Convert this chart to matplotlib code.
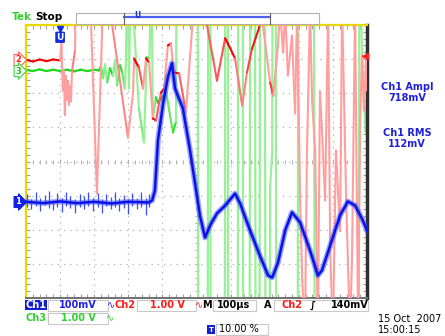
import numpy as np
import matplotlib.pyplot as plt
from matplotlib.collections import LineCollection
from matplotlib.patches import Rectangle
from matplotlib.transforms import blended_transform_factory

W, H = 445, 336

# time in µs from the trigger (100 µs/div, trigger at 10 %)
# Ch1: mV (100 mV/div), Ch2 / Ch3: V (1 V/div)
ch1_t = [-100, -50, 0, 50, 100, 150, 200, 260,
         270, 278, 287, 302, 316, 328, 337, 360, 381, 410, 425, 440, 460, 484, 513, 528, 557,
         586, 610, 622, 639, 660, 680, 704, 733, 756, 768, 792, 821, 844, 865, 885, 900]
ch1_mv = [2, -2, 3, -2, 2, -3, 2, 0,
          6, 35, 182, 290, 367, 408, 334, 276, 153, -38, -103, -67, -32, -9, 26, -3, -82,
          -156, -214, -220, -176, -82, -29, -59, -141, -214, -199, -126, -38, 3, -9, -47, -82]

# noise spikes on the Ch1 baseline: time, low, high (mV)
spike_t = [-96, -84, -70, -58, -45, -33, -20, -8, 5, 18, 30, 44, 57, 70, 83, 96, 110, 122,
           135, 148, 160, 173, 186, 199, 212, 225, 238, 251, 262]
spike_lo = [-12, -18, -10, -25, -8, -15, -22, -12, -28, -10, -16, -30, -12, -20, -10, -24,
            -14, -32, -10, -20, -12, -26, -16, -34, -10, -20, -14, -36, -12]
spike_hi = [25, 10, 30, 12, 22, 34, 8, 28, 14, 30, 20, 10, 26, 18, 32, 12, 28, 10, 24, 16,
            30, 12, 22, 10, 28, 14, 30, 12, 24]

ch2_t = [-100, -80, -60, -40, -20, 0, 4, 8, 11, 14, 17, 20, 23, 26, 29, 32,
         35, 41, 44, 50, 60, 108, 130, 149, 199, 214, 217, 223, 231, 243, 252, 261, 272, 281,
         296, 305, 316, 325, 334, 349, 369, 395, 415, 431, 460, 484, 492, 513, 534, 548, 563,
         586, 592, 595, 616, 625, 639, 645, 654, 660, 668, 680, 689, 695, 704, 710, 718, 724,
         733, 739, 748, 756, 762, 768, 777, 786, 792, 800, 809, 821, 827, 839, 850, 856, 865,
         874, 880, 885, 891, 897, 900]
ch2_v = [0.02, -0.03, 0.03, -0.02, 0.03, 0.0, 0.5, -0.88, -0.3, -1.6, -0.45, -1.15, -0.6, -1.3,
         -0.75, -1.2, -0.3, 0.1, 0.3, 10, 10, -3.9, 3, 1.3, -2.26, -0.94, 0.06, -0.06, -0.2,
         -0.82, 0.06, -0.06, -1.7, -1.76, -0.94, -0.82, 0.44, 0.5, -0.35, -0.38, -1.52, 2.0,
         2.5, 1.03, -0.59, 0.65, 0.5, 0.06, -1.32, -0.35, 0.35, 1.03, 2.0, 1.03, -0.65, -1.03,
         0.44, 1.5, 0.23, 1.5, -0.44, 0.73, -1.55, 1.5, -4.1, -6.45, -8, -2.64, 1.5, -1.17,
         -2.64, -8, -0.9, -2.05, -4.1, 1.5, -5.57, -8, -2.64, -5.0, 1.5, -4.1, -8, -5.86, 1.5,
         -8, -1.76, 0.15, -1.47, 0.0, -0.88]

ch3_t = [-100, -80, -60, -40, -20, 0, 20, 40, 60, 80, 100, 114, 120, 126, 132, 138, 146, 155,
         161, 167, 176, 182, 190, 193, 197, 202, 207, 231, 246, 254, 262, 268, 272, 281, 287,
         311, 331, 340, 348, 400, 408, 430, 438, 440, 442, 480, 488, 490, 494, 518, 526, 534,
         538, 553, 561, 568, 576, 582, 590, 597, 605, 610, 616, 622, 628, 630, 636, 694, 702,
         708, 740, 750, 874, 880, 884, 890, 896, 900]
ch3_v = [0.02, -0.02, 0.03, -0.02, 0.02, -0.02, 0.02, -0.03, 0.02, -0.02, 0.02, 0.0, 0.12,
         -0.23, 0.18, -0.35, 0.06, -0.15, 0.29, -0.44, 0.15, -0.06, -0.53, 0.29, 3, -0.53, 3,
         -1.11, -2.11, 0.38, 0.35, 3, -1.41, -0.79, -0.95, -0.65, -1.82, -1.5, 30, 30, -30,
         -30, 30, 30, -30, -30, 30, 30, -30, -30, 30, 30, -30, -30, 30, 30, -30, -30, 30, 30,
         -30, -30, -3.4, -2.4, 30, 30, -30, -30, 30, 30, 30, -30, -30, 30, 1.0, -0.5, -1.8, -1.2]

# channel ground markers (divisions from centre) and scales
ch1_pos, ch1_scale = -1.2, 100.0
ch2_pos, ch2_scale = 2.96, 1.0
ch3_pos, ch3_scale = 2.67, 1.0
trig_level = 0.14  # V on Ch2

fig = plt.figure(figsize=(W / 100, H / 100), dpi=100)
fig.patch.set_facecolor("white")
ax = fig.add_axes([26 / W, 1 - 298 / H, 341 / W, 273 / H])
ax.set_xlim(-100, 900)
ax.set_ylim(-4, 4)

# graticule
grid_c = "#b0b0b0"
for x in range(-100, 901, 100):
    ax.axvline(x, color=grid_c, lw=0.9, dashes=(1, 4), zorder=0)
for y in range(-4, 5):
    ax.axhline(y, color=grid_c, lw=0.9, dashes=(1, 4), zorder=0)
minor_x = np.arange(-100, 901, 20)
minor_y = np.arange(-4, 4.01, 0.2)
ax.plot(minor_x, np.zeros_like(minor_x), ls="none", marker="|", ms=3, mew=0.7, color=grid_c, zorder=0)
ax.plot(np.full_like(minor_y, 400), minor_y, ls="none", marker="_", ms=3, mew=0.7, color=grid_c, zorder=0)
ax.set_xticks(minor_x, minor=True)
ax.set_yticks(minor_y, minor=True)
ax.set_xticks([])
ax.set_yticks([])
ax.tick_params(which="minor", direction="in", length=3, width=0.8, color="#a0a0a0",
               top=True, right=True, labelbottom=False, labelleft=False)
ax.spines["top"].set_color("#e6d800")
ax.spines["left"].set_color("#e6d800")
ax.spines["top"].set_linewidth(1.6)
ax.spines["left"].set_linewidth(1.6)
ax.spines["right"].set_color("#303030")
ax.spines["right"].set_linewidth(2.5)
ax.spines["bottom"].set_color("#707070")
ax.spines["bottom"].set_linewidth(1.4)


def trace(t, v, pos, scale, pale, sat, lw, z):
    x = np.asarray(t, float)
    y = pos + np.asarray(v, float) / scale
    segs = np.stack([np.column_stack([x[:-1], y[:-1]]), np.column_stack([x[1:], y[1:]])], axis=1)
    slope = np.abs(np.diff(y)) / np.maximum(np.diff(x) / 100, 1e-6)
    w = np.clip((8 - slope) / 6, 0, 1)[:, None]
    cols = np.array(pale) * (1 - w) + np.array(sat) * w
    ax.add_collection(LineCollection(segs, colors=cols, linewidths=lw, capstyle="round", zorder=z))


trace(ch3_t, ch3_v, ch3_pos, ch3_scale, (0.6, 0.94, 0.6), (0.1, 0.85, 0.1), 1.6, 2)
trace(ch2_t, ch2_v, ch2_pos, ch2_scale, (1.0, 0.62, 0.62), (0.95, 0.0, 0.0), 1.5, 3)

ch1_y = ch1_pos + np.asarray(ch1_mv) / ch1_scale
ax.vlines(spike_t, ch1_pos + np.asarray(spike_lo) / ch1_scale,
          ch1_pos + np.asarray(spike_hi) / ch1_scale, color="#3a4cff", lw=0.9, zorder=4)
ax.plot(ch1_t, ch1_y, color="#4858ff", lw=4.0, alpha=0.55, solid_joinstyle="round", zorder=4)
ax.plot(ch1_t, ch1_y, color="#0a10e8", lw=1.8, solid_joinstyle="round", zorder=5)

# trigger level arrow on the right edge, trigger position marker on top
ax.plot(895, ch2_pos + trig_level, marker="<", ms=4, color="#ff2020", clip_on=False, zorder=6)
tr = blended_transform_factory(ax.transData, ax.transAxes)
ax.plot(0, 0.985, marker="v", ms=5, color="#1030e0", transform=tr, clip_on=False, zorder=6)
ax.text(0, 0.955, "U", transform=tr, ha="center", va="center", fontsize=6.5,
        fontweight="bold", color="white", zorder=7,
        bbox=dict(boxstyle="round,pad=0.05", fc="#1030e0", ec="#1030e0"))


def ftext(px, py, s, **kw):
    fig.text(px / W, 1 - py / H, s, **kw)


def fbox(x0, y0, x1, y1, **kw):
    fig.add_artist(Rectangle((x0 / W, 1 - y1 / H), (x1 - x0) / W, (y1 - y0) / H,
                             transform=fig.transFigure, **kw))


# channel markers on the left
ftext(18, 60, "2", color="#ff2020", fontsize=6, fontweight="bold", ha="center", va="center",
      bbox=dict(boxstyle="rarrow,pad=0.12", fc="white", ec="#ff6060", lw=0.8))
ftext(18, 71, "3", color="#20c020", fontsize=6, fontweight="bold", ha="center", va="center",
      bbox=dict(boxstyle="rarrow,pad=0.12", fc="white", ec="#40d040", lw=0.8))
ftext(18, 202, "1", color="white", fontsize=6, fontweight="bold", ha="center", va="center",
      bbox=dict(boxstyle="rarrow,pad=0.12", fc="#1020e0", ec="#1020e0", lw=0.8))

# header: Tek Stop and record view
ftext(12, 17, "Tek", color="#30d030", fontsize=7.5, fontweight="bold", va="center")
ftext(35, 17, "Stop", color="black", fontsize=7.5, fontweight="bold", va="center")
fbox(76, 13, 319, 24, fc="white", ec="#b0b0b0", lw=0.8)
fig.add_artist(plt.Line2D([124 / W, 269 / W], [1 - 17 / H, 1 - 17 / H], color="#5060f0", lw=1.6))
for bx in (124, 270):
    fig.add_artist(plt.Line2D([bx / W, bx / W], [1 - 13 / H, 1 - 24 / H], color="#606060", lw=0.8))
ftext(137, 16, "U", color="#1030e0", fontsize=5.5, fontweight="bold", ha="center", va="center")

# measurements
meas_blue = "#2020d8"
ftext(407, 87, "Ch1 Ampl", color=meas_blue, fontsize=7, fontweight="bold", ha="center", va="center")
ftext(407, 98, "718mV", color=meas_blue, fontsize=7, fontweight="bold", ha="center", va="center")
ftext(407, 133, "Ch1 RMS", color=meas_blue, fontsize=7, fontweight="bold", ha="center", va="center")
ftext(407, 144, "112mV", color=meas_blue, fontsize=7, fontweight="bold", ha="center", va="center")

# status rows
red, green, blue = "#ff1a1a", "#30d030", "#2020e0"
box_kw = dict(fc="none", ec="#c8c8c8", lw=0.8)
fbox(25, 300, 47, 310, fc="#1020d0", ec="none")
ftext(36, 305, "Ch1", color="white", fontsize=7, fontweight="bold", ha="center", va="center")
fbox(48, 300, 108, 311, **box_kw)
ftext(78, 305, "100mV", color=blue, fontsize=7, fontweight="bold", ha="center", va="center")
ftext(111, 305, "∿", color=blue, fontsize=7, ha="center", va="center")
ftext(125, 305, "Ch2", color=red, fontsize=7, fontweight="bold", ha="center", va="center")
fbox(137, 300, 196, 311, **box_kw)
ftext(167, 305, "1.00 V", color=red, fontsize=7, fontweight="bold", ha="center", va="center")
ftext(199, 305, "∿", color=red, fontsize=7, ha="center", va="center")
ftext(207, 305, "M", color="black", fontsize=7, fontweight="bold", ha="center", va="center")
fbox(213, 300, 256, 311, **box_kw)
ftext(234, 305, "100µs", color="black", fontsize=7, fontweight="bold", ha="center", va="center")
ftext(268, 305, "A", color="black", fontsize=7, fontweight="bold", ha="center", va="center")
fbox(274, 300, 368, 311, **box_kw)
ftext(292, 305, "Ch2", color=red, fontsize=7, fontweight="bold", ha="center", va="center")
ftext(313, 305, "∫", color="black", fontsize=7, fontweight="bold", ha="center", va="center")
ftext(350, 305, "140mV", color="black", fontsize=7, fontweight="bold", ha="center", va="center")

ftext(36, 318, "Ch3", color=green, fontsize=7, fontweight="bold", ha="center", va="center")
fbox(48, 313, 108, 324, **box_kw)
ftext(78, 318, "1.00 V", color=green, fontsize=7, fontweight="bold", ha="center", va="center")
ftext(110, 318, "∿", color=green, fontsize=7, ha="center", va="center")

fbox(207, 325, 215, 334, fc="#1020d0", ec="none")
ftext(211, 329.5, "T", color="white", fontsize=5, fontweight="bold", ha="center", va="center")
fbox(216, 324, 268, 335, **box_kw)
ftext(239, 329.5, "10.00 %", color="black", fontsize=7, ha="center", va="center")

ftext(378, 319, "15 Oct  2007", color="black", fontsize=7, va="center")
ftext(378, 330, "15:00:15", color="black", fontsize=7, va="center")

fig.savefig("out.png", dpi=100, facecolor="white")
